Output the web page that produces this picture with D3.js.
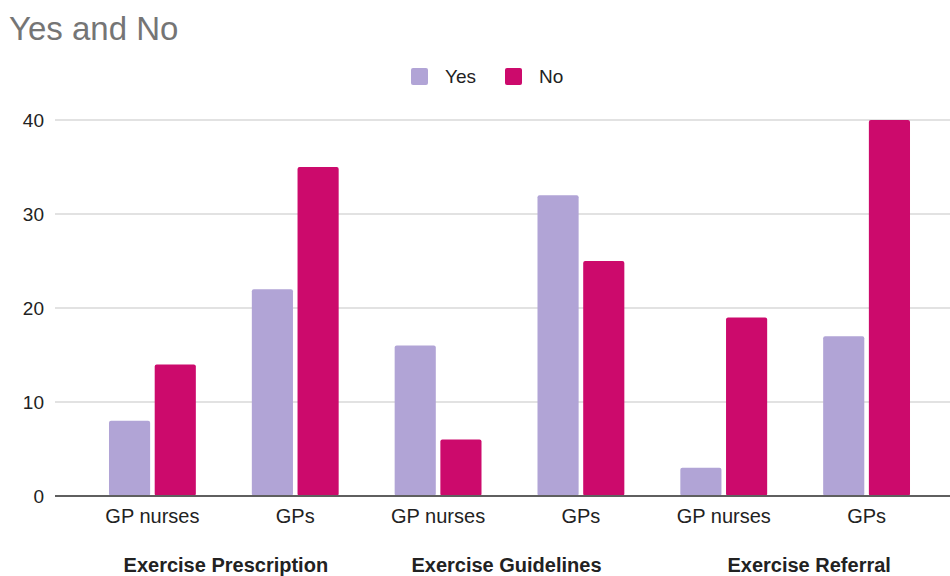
<!DOCTYPE html>
<html><head><meta charset="utf-8">
<script src="https://cdn.jsdelivr.net/npm/d3@7"></script>
<style>body{margin:0;background:#fff;}svg{display:block;}</style>
</head><body>
<svg id="c" width="950" height="576"></svg>
<script>
const categories = ["GP nurses","GPs","GP nurses","GPs","GP nurses","GPs"];
const groups = ["Exercise Prescription","Exercise Guidelines","Exercise Referral"];
const seriesNames = ["Yes","No"];
const yesValues = [8,22,16,32,3,17];
const noValues = [14,35,6,25,19,40];
const yTicks = [0,10,20,30,40];
const colors = ["#b1a4d6","#cc0a6c"];

const svg = d3.select("#c");
const font = "'Liberation Sans', Arial, Helvetica, sans-serif";
const idx = categories.map((d,i)=>i);
const x = d3.scaleBand().domain(idx).range([81,938]).paddingInner(0).paddingOuter(0);
const xs = d3.scaleBand().domain(seriesNames).range([x.bandwidth()*0.196, x.bandwidth()*0.804]).paddingInner(0.1);
const y = d3.scaleLinear().domain([0,40]).range([496,120]);

// gridlines
svg.append("g").selectAll("line").data(yTicks.filter(t=>t>0)).join("line")
  .attr("x1",55).attr("x2",950).attr("y1",d=>y(d)).attr("y2",d=>y(d))
  .attr("stroke","#d9d9d9").attr("stroke-width",1.5);

// y axis labels
const yAxis = d3.axisLeft(y).tickValues(yTicks).tickSize(0).tickPadding(0);
const ya = svg.append("g").attr("transform","translate(44,0)").call(yAxis);
ya.select(".domain").remove();
ya.selectAll("text").attr("font-family",font).attr("font-size",19).attr("fill","#222").attr("dy","0.36em");

// bars
const data = categories.map((c,i)=>({i, vals:[yesValues[i], noValues[i]]}));
const g = svg.append("g");
data.forEach(d=>{
  g.selectAll(null).data(seriesNames.map((s,k)=>({s,v:d.vals[k],k}))).join("rect")
    .attr("x",e=>x(d.i)+xs(e.s)).attr("width",xs.bandwidth())
    .attr("y",e=>y(e.v)).attr("height",e=>y(0)-y(e.v))
    .attr("rx",2).attr("fill",e=>colors[e.k]);
});

// baseline
svg.append("line").attr("x1",55).attr("x2",950).attr("y1",y(0)).attr("y2",y(0))
  .attr("stroke","#5f5f5f").attr("stroke-width",2);

// x axis labels
const xAxis = d3.axisBottom(x).tickFormat(i=>categories[i]).tickSize(0).tickPadding(0);
const xa = svg.append("g").attr("transform","translate(0,523)").call(xAxis);
xa.select(".domain").remove();
xa.selectAll("text").attr("font-family",font).attr("font-size",20).attr("fill","#222").attr("dy","0");

// group labels
svg.append("g").selectAll("text").data(groups).join("text")
  .attr("x",(d,j)=>(x(2*j)+x(2*j+1))/2 + x.bandwidth()/2 + (j===2?14:(j===1?-3:2)))
  .attr("y",572).attr("text-anchor","middle")
  .attr("font-family",font).attr("font-size",20).attr("font-weight","bold").attr("fill","#222")
  .text(d=>d);

// title
svg.append("text").attr("x",9).attr("y",40).attr("font-family",font).attr("font-size",33)
  .attr("fill","#757575").text("Yes and No");

// legend
const leg = svg.append("g");
const legX = [411,505];
seriesNames.forEach((s,k)=>{
  leg.append("rect").attr("x",legX[k]).attr("y",68).attr("width",17).attr("height",17).attr("rx",2).attr("fill",colors[k]);
  leg.append("text").attr("x",legX[k]+34).attr("y",83).attr("font-family",font).attr("font-size",19).attr("fill","#222").text(s);
});
</script>
</body></html>
